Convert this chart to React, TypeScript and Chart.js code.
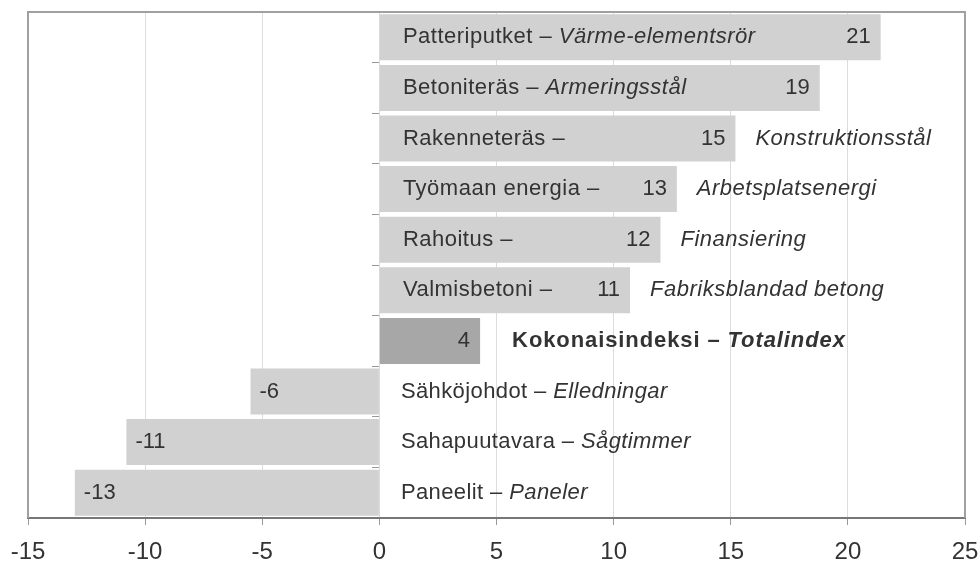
import React, { useEffect, useRef } from 'react';
import { Chart, registerables } from 'chart.js';

Chart.register(...registerables);

// ---- data ----
const categories = [
  'Patteriputket',
  'Betoniteräs',
  'Rakenneteräs',
  'Työmaan energia',
  'Rahoitus',
  'Valmisbetoni',
  'Kokonaisindeksi',
  'Sähköjohdot',
  'Sahapuutavara',
  'Paneelit',
];
const swedishNames = [
  'Värme-elementsrör',
  'Armeringsstål',
  'Konstruktionsstål',
  'Arbetsplatsenergi',
  'Finansiering',
  'Fabriksblandad betong',
  'Totalindex',
  'Elledningar',
  'Sågtimmer',
  'Paneler',
];
const values = [21.4, 18.8, 15.2, 12.7, 12.0, 10.7, 4.3, -5.5, -10.8, -13.0];
const valueLabels = ['21', '19', '15', '13', '12', '11', '4', '-6', '-11', '-13'];
const xTicks = [-15, -10, -5, 0, 5, 10, 15, 20, 25];
const totalIndex = 6;

const FONT = '"Liberation Sans", Arial, sans-serif';
const TEXT = '#333333';
const LABEL_PX = 22;

const labelPlugin = {
  id: 'barLabels',
  afterDatasetsDraw(chart: any) {
    const ctx = chart.ctx as any;
    const meta = chart.getDatasetMeta(0);
    const normal = `${LABEL_PX}px ${FONT}`;
    const italic = `italic ${LABEL_PX}px ${FONT}`;
    ctx.save();
    ctx.textBaseline = 'middle';
    ctx.fillStyle = TEXT;
    meta.data.forEach((bar: any, i: number) => {
      const { x, y, base } = bar.getProps(['x', 'y', 'base'], true);
      const v = values[i];
      const fi = categories[i] + ' – ';
      const sv = swedishNames[i];
      ctx.letterSpacing = '0px';
      if (i === totalIndex) {
        ctx.font = normal;
        ctx.textAlign = 'right';
        ctx.fillText(valueLabels[i], x - 10, y);
        ctx.textAlign = 'left';
        ctx.letterSpacing = '0.9px';
        let tx = x + 32;
        ctx.font = `bold ${LABEL_PX}px ${FONT}`;
        ctx.fillText(fi, tx, y);
        tx += ctx.measureText(fi).width;
        ctx.font = `italic bold ${LABEL_PX}px ${FONT}`;
        ctx.fillText(sv, tx, y);
      } else if (v < 0) {
        ctx.font = normal;
        ctx.textAlign = 'left';
        ctx.fillText(valueLabels[i], x + 9, y);
        ctx.letterSpacing = '0.4px';
        const tx = base + 22;
        ctx.fillText(fi, tx, y);
        const fw = ctx.measureText(fi).width;
        ctx.font = italic;
        ctx.fillText(sv, tx + fw, y);
      } else {
        ctx.font = normal;
        const vw = ctx.measureText(valueLabels[i]).width;
        ctx.textAlign = 'right';
        ctx.fillText(valueLabels[i], x - 10, y);
        ctx.letterSpacing = '0.5px';
        const fw = ctx.measureText(fi).width;
        ctx.font = italic;
        const sw = ctx.measureText(sv).width;
        ctx.font = normal;
        const start = base + 23;
        ctx.textAlign = 'left';
        ctx.fillText(fi, start, y);
        ctx.font = italic;
        if (start + fw + sw + 20 < x - 10 - vw) {
          ctx.fillText(sv, start + fw, y);
        } else {
          ctx.fillText(sv, x + 20, y);
        }
      }
    });
    ctx.restore();
  },
};

const framePlugin = {
  id: 'frame',
  afterDraw(chart: any) {
    const { ctx, chartArea } = chart;
    const { left, right, top, bottom } = chartArea;
    ctx.save();
    ctx.strokeStyle = '#a0a0a0';
    ctx.lineWidth = 2;
    ctx.beginPath();
    ctx.moveTo(left, bottom);
    ctx.lineTo(left, top);
    ctx.lineTo(right, top);
    ctx.lineTo(right, bottom);
    ctx.stroke();
    ctx.restore();
  },
};

export default function App() {
  const ref = useRef<HTMLCanvasElement | null>(null);
  useEffect(() => {
    if (!ref.current) return;
    const chart = new Chart(ref.current, {
      type: 'bar',
      data: {
        labels: categories,
        datasets: [
          {
            data: values,
            backgroundColor: values.map((_, i) => (i === totalIndex ? '#a7a7a7' : '#d1d1d1')),
            borderWidth: 0,
            barPercentage: 0.91,
            categoryPercentage: 1,
          },
        ],
      },
      options: {
        indexAxis: 'y',
        animation: false,
        responsive: false,
        layout: { padding: { left: 28, right: 13, top: 12, bottom: 0 } },
        plugins: {
          legend: { display: false },
          tooltip: { enabled: false },
          title: { display: false },
        },
        scales: {
          x: {
            type: 'linear',
            min: -15,
            max: 25,
            afterBuildTicks: (scale: any) => {
              scale.ticks = xTicks.map((v) => ({ value: v }));
            },
            afterFit: (scale: any) => {
              scale.height = 46;
              scale.paddingLeft = 0;
              scale.paddingRight = 0;
            },
            ticks: {
              font: { family: FONT, size: 24 },
              color: TEXT,
              padding: 13,
            },
            grid: {
              color: '#dcdcdc',
              lineWidth: 1,
              tickLength: 7,
              tickColor: '#999999',
            },
            border: { color: '#777777', width: 2 },
          },
          y: {
            type: 'category',
            position: { x: 0 } as any,
            ticks: { display: false },
            grid: {
              offset: true,
              drawOnChartArea: false,
              drawTicks: true,
              tickLength: 7,
              tickColor: '#999999',
            },
            border: { display: false },
          },
        },
      },
      plugins: [labelPlugin, framePlugin],
    } as any);
    return () => chart.destroy();
  }, []);
  return (
    <div style={{ position: 'absolute', left: 0, top: 0, width: 978, height: 564, background: '#ffffff' }}>
      <canvas ref={ref} width={978} height={564} style={{ display: 'block' }} />
    </div>
  );
}
